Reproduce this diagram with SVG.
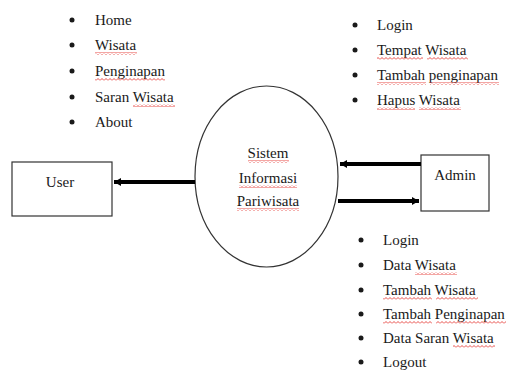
<svg xmlns="http://www.w3.org/2000/svg" width="509" height="370" viewBox="0 0 509 370">
<style>
.t{font-family:'Liberation Serif','Times New Roman',serif;font-size:15px;fill:#1a1a1a}
.b{fill:#1a1a1a}
.box{fill:#fff;stroke:#333;stroke-width:1.2}
.c{stroke:#000;stroke-width:4;fill:none}
.sq{fill:url(#wave)}
</style>
<defs>
<marker id="ah" markerUnits="userSpaceOnUse" markerWidth="8" markerHeight="10" refX="7" refY="5" orient="auto">
<path d="M0,1 L7,5 L0,9 Z" fill="#000"/>
</marker>
<pattern id="wave" patternUnits="userSpaceOnUse" width="4" height="3">
<path d="M0,2.5 L2,0.5 L4,2.5" fill="none" stroke="#e53935" stroke-width="0.9"/>
</pattern>
</defs>
<rect width="509" height="370" fill="#fff"/>

<g id="list-user">
<circle class="b" cx="72" cy="20" r="2.5"/><text class="t" x="95" y="25">Home</text>
<circle class="b" cx="72" cy="45" r="2.5"/><text class="t" x="95" y="50">Wisata</text>
<circle class="b" cx="72" cy="71" r="2.5"/><text class="t" x="95" y="76">Penginapan</text>
<circle class="b" cx="72" cy="97" r="2.5"/><text class="t" x="95" y="102">Saran Wisata</text>
<circle class="b" cx="72" cy="122" r="2.5"/><text class="t" x="95" y="127">About</text>
<rect class="sq" x="95" y="52" width="42" height="3"/>
<rect class="sq" x="95" y="78" width="70" height="3"/>
<rect class="sq" x="133" y="104" width="42" height="3"/>
</g>

<g id="list-admin-in">
<circle class="b" cx="355" cy="25" r="2.5"/><text class="t" x="377" y="30">Login</text>
<circle class="b" cx="355" cy="50" r="2.5"/><text class="t" x="377" y="55">Tempat Wisata</text>
<circle class="b" cx="355" cy="75" r="2.5"/><text class="t" x="377" y="80">Tambah penginapan</text>
<circle class="b" cx="355" cy="100" r="2.5"/><text class="t" x="377" y="105">Hapus Wisata</text>
<rect class="sq" x="377" y="57" width="46" height="3"/>
<rect class="sq" x="427" y="57" width="41" height="3"/>
<rect class="sq" x="377" y="82" width="49" height="3"/>
<rect class="sq" x="430" y="82" width="69" height="3"/>
<rect class="sq" x="377" y="107" width="38" height="3"/>
<rect class="sq" x="419" y="107" width="42" height="3"/>
</g>

<g id="list-admin-out">
<circle class="b" cx="361" cy="240" r="2.5"/><text class="t" x="383" y="245">Login</text>
<circle class="b" cx="361" cy="265" r="2.5"/><text class="t" x="383" y="270">Data Wisata</text>
<circle class="b" cx="361" cy="290" r="2.5"/><text class="t" x="383" y="295">Tambah Wisata</text>
<circle class="b" cx="361" cy="314" r="2.5"/><text class="t" x="383" y="319">Tambah Penginapan</text>
<circle class="b" cx="361" cy="338" r="2.5"/><text class="t" x="383" y="343">Data Saran Wisata</text>
<circle class="b" cx="361" cy="362" r="2.5"/><text class="t" x="383" y="367">Logout</text>
<rect class="sq" x="415" y="272" width="42" height="3"/>
<rect class="sq" x="383" y="297" width="49" height="3"/>
<rect class="sq" x="436" y="297" width="42" height="3"/>
<rect class="sq" x="383" y="321" width="49" height="3"/>
<rect class="sq" x="436" y="321" width="70" height="3"/>
<rect class="sq" x="453" y="345" width="42" height="3"/>
</g>

<g id="user">
<rect class="box" x="12" y="162" width="100" height="54"/>
<text class="t" x="60" y="187" text-anchor="middle">User</text>
</g>

<g id="system">
<ellipse class="box" cx="266.5" cy="176.5" rx="71.5" ry="90.5"/>
<text class="t" x="268" y="158" text-anchor="middle">Sistem</text>
<text class="t" x="268" y="183" text-anchor="middle">Informasi</text>
<text class="t" x="268" y="206" text-anchor="middle">Pariwisata</text>
<rect class="sq" x="248" y="160" width="41" height="3"/>
<rect class="sq" x="239" y="185" width="58" height="3"/>
<rect class="sq" x="237" y="208" width="62" height="3"/>
</g>

<g id="admin">
<rect class="box" x="421" y="155" width="68" height="56"/>
<text class="t" x="455" y="180" text-anchor="middle">Admin</text>
</g>

<g id="connectors">
<line class="c" x1="195" y1="182" x2="114" y2="182" marker-end="url(#ah)"/>
<line class="c" x1="421" y1="164" x2="340" y2="164" marker-end="url(#ah)"/>
<line class="c" x1="338" y1="201" x2="419" y2="201" marker-end="url(#ah)"/>
</g>
</svg>
